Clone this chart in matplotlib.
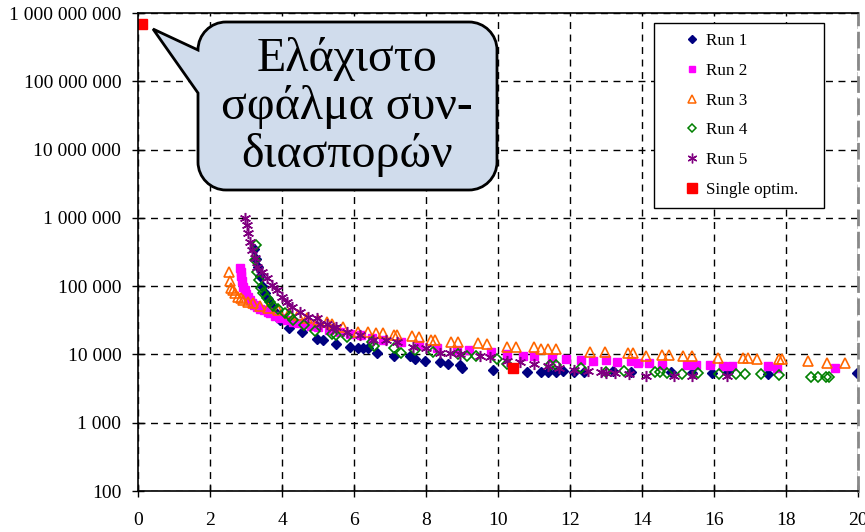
import matplotlib.pyplot as plt
import numpy as np
from matplotlib.path import Path
from matplotlib.patches import PathPatch
from matplotlib.lines import Line2D
from matplotlib.ticker import FixedLocator, FuncFormatter, NullLocator

plt.rcParams['font.family'] = ['Liberation Serif', 'DejaVu Serif']

# Covariance error per iteration for each run
run1_x = [3.22, 3.27, 3.32, 3.38, 3.45, 3.52, 3.6, 3.7, 3.8, 3.9, 3.95, 4.2, 4.55, 4.97,
          5.15, 5.5, 5.9, 6.1, 6.25, 6.4, 6.65, 7.1, 7.55, 7.7, 7.97, 8.4, 8.6, 8.95, 9.0,
          9.86, 10.8, 11.2, 11.4, 11.6, 11.8, 12.1, 12.4, 13.2, 13.7, 14.8, 15.4, 15.95,
          16.4, 17.5, 19.97]
run1_y = [350000, 250000, 190000, 140000, 100000, 80000, 65000, 52000, 42000, 35000, 32000,
          24500, 21000, 17000, 16000, 14000, 13000, 12500, 12500, 12300, 10500, 9500, 9400,
          8500, 8000, 7700, 7300, 6900, 6300, 5950, 5500, 5500, 5500, 5500, 5700, 5500, 5500,
          5700, 5500, 5500, 5400, 5300, 5500, 5200, 5300]

run2_x = [2.83, 2.85, 2.87, 2.9, 2.92, 2.96, 3.0, 3.05, 3.1, 3.17, 3.23, 3.3, 3.4, 3.5,
          3.6, 3.67, 3.8, 3.95, 4.14, 4.3, 4.45, 4.6, 4.8, 5.0, 5.3, 5.6, 5.9, 6.2, 6.5,
          6.8, 7.3, 7.8, 8.3, 8.85, 9.2, 9.8, 10.25, 10.7, 11.0, 11.5, 11.9, 12.3, 12.65,
          13.0, 13.3, 13.7, 13.9, 14.2, 14.55, 15.25, 15.5, 15.9, 16.25, 16.5, 17.5, 17.75,
          19.35]
run2_y = [185000, 160000, 140000, 120000, 98000, 88000, 78000, 69000, 63000, 57000, 53000,
          50000, 46000, 44000, 42000, 40000, 37000, 34000, 32000, 30000, 28500, 27500, 26000,
          25000, 23000, 21500, 20000, 19000, 17500, 16500, 15000, 13800, 12500, 11500, 11500,
          10700, 10000, 9500, 9400, 8900, 8700, 8400, 8000, 8200, 7800, 7900, 7600, 7600,
          7000, 7000, 7000, 6900, 6800, 6800, 6700, 6300, 6300]

run3_x = [2.53, 2.55, 2.58, 2.63, 2.7, 2.78, 2.85, 2.92, 3.05, 3.2, 3.39, 3.6, 3.9, 4.2,
          4.44, 4.7, 5.0, 5.25, 5.4, 5.7, 6.1, 6.4, 6.6, 6.8, 7.1, 7.2, 7.6, 7.8, 8.15, 8.25,
          8.7, 8.9, 9.45, 9.7, 10.25, 10.5, 11.0, 11.2, 11.4, 11.6, 12.55, 12.97, 13.6,
          13.75, 14.1, 14.55, 14.75, 15.15, 15.4, 16.1, 16.8, 16.95, 17.2, 17.8, 17.9, 18.6,
          19.15, 19.65]
run3_y = [160000, 120000, 95000, 88000, 80000, 70000, 66000, 63000, 58000, 56000, 52000,
          48000, 44000, 41000, 38000, 34000, 32000, 30000, 28000, 25000, 21000, 21000, 20500,
          20500, 19000, 19000, 18500, 18000, 16500, 16500, 15000, 15000, 14700, 14000, 13000,
          13000, 12800, 12200, 12200, 12200, 11000, 11000, 10400, 10400, 9500, 9800, 9800,
          9400, 9400, 9000, 8800, 8800, 8600, 8600, 8600, 8000, 7600, 7500]

run4_x = [3.28, 3.25, 3.3, 3.36, 3.43, 3.47, 3.58, 3.67, 3.75, 3.9, 4.08, 4.22, 4.3, 4.6,
          4.92, 5.39, 5.5, 5.8, 6.5, 6.55, 7.1, 7.3, 7.7, 8.2, 8.9, 9.15, 9.4, 9.97, 10.25,
          11.45, 11.6, 12.3, 13.0, 13.5, 14.35, 14.5, 14.7, 15.1, 15.55, 16.15, 16.6, 16.85,
          17.3, 17.8, 18.7, 18.9, 19.1, 19.2]
run4_y = [400000, 240000, 160000, 125000, 95000, 80000, 68000, 58000, 52000, 47000, 40000,
          36000, 32000, 27000, 22000, 20000, 19000, 18000, 15000, 13500, 12500, 10500, 11500,
          11000, 10000, 9500, 9500, 8500, 7300, 7000, 7000, 6300, 5500, 5700, 5500, 5500,
          5300, 5200, 5300, 5100, 5100, 5100, 5100, 5000, 4700, 4700, 4700, 4700]

run5_x = [2.97, 3.02, 3.06, 3.1, 3.16, 3.25, 3.3, 3.44, 3.58, 3.72, 3.86, 4.0, 4.14, 4.28,
          4.5, 4.72, 4.97, 5.05, 5.25, 5.42, 5.5, 5.8, 6.17, 6.53, 6.9, 7.2, 7.65, 8.0, 8.4,
          8.67, 8.95, 9.5, 9.78, 10.25, 10.6, 11.0, 11.4, 11.7, 12.1, 12.5, 12.85, 13.0,
          13.25, 13.65, 14.1, 14.9, 15.4, 16.35]
run5_y = [1000000, 780000, 600000, 450000, 340000, 260000, 190000, 160000, 130000, 105000,
          88000, 70000, 58000, 50000, 42000, 35000, 34000, 28000, 28000, 24500, 25000, 21000,
          19500, 16500, 16000, 15000, 13000, 12500, 10500, 10500, 10000, 9500, 9300, 8000,
          7800, 7300, 6800, 6300, 6000, 5800, 5500, 5400, 5300, 5100, 4900, 4900, 4900, 4800]

single_x = [0.1, 10.42]
single_y = [7.0e8, 6300]

y_ticks = [1e2, 1e3, 1e4, 1e5, 1e6, 1e7, 1e8, 1e9]
x_ticks = list(range(0, 21, 2))

W, H = 865, 532
fig = plt.figure(figsize=(W / 100, H / 100), dpi=100)
ax = fig.add_axes([138 / W, 1 - 491 / H, 720 / W, 478 / H])

ax.plot(run1_x, run1_y, ls='none', marker='D', ms=5, color='#000080', mec='#000080')
ax.plot(run2_x, run2_y, ls='none', marker='s', ms=5.5, color='#ff00ff', mec='#ff00ff')
ax.plot(run3_x, run3_y, ls='none', marker='^', ms=7, mfc='none', mec='#ff6600', mew=1.2)
ax.plot(run4_x, run4_y, ls='none', marker='D', ms=5, mfc='none', mec='#008000', mew=1.2)
ax.plot(run5_x, run5_y, ls='none', marker=(6, 2, 0), ms=8, mec='#800080', mew=1.1)
ax.plot(single_x, single_y, ls='none', marker='s', ms=7, color='#ff0000', mec='#ff0000')

ax.set_yscale('log')
ax.set_ylim(100, 1e9)
ax.set_xlim(0, 20)
ax.yaxis.set_major_locator(FixedLocator(y_ticks))
ax.yaxis.set_minor_locator(NullLocator())
ax.yaxis.set_major_formatter(FuncFormatter(lambda v, p: f'{int(round(v)):,}'.replace(',', ' ')))
ax.set_xticks(x_ticks)
ax.tick_params(axis='both', direction='inout', length=8, width=1, labelsize=14)
ax.tick_params(axis='y', pad=8)
ax.tick_params(axis='x', pad=11)

ax.grid(True, color='black', linestyle=(0, (5, 4)), linewidth=1)
ax.set_axisbelow(True)
for side in ['left', 'bottom', 'top']:
    ax.spines[side].set_linewidth(1.2)
ax.spines['right'].set_color('#888888')
ax.spines['right'].set_linestyle((0, (5, 3)))
ax.spines['right'].set_linewidth(2)

# Legend
handles = [
    Line2D([], [], ls='none', marker='D', ms=4, color='#000080'),
    Line2D([], [], ls='none', marker='s', ms=4.5, color='#ff00ff'),
    Line2D([], [], ls='none', marker='^', ms=5.5, mfc='none', mec='#ff6600', mew=1.1),
    Line2D([], [], ls='none', marker='D', ms=4, mfc='none', mec='#008000', mew=1.1),
    Line2D([], [], ls='none', marker=(6, 2, 0), ms=7, mec='#800080', mew=1),
    Line2D([], [], ls='none', marker='s', ms=7.5, color='#ff0000'),
]
labels = ['Run 1', 'Run 2', 'Run 3', 'Run 4', 'Run 5', 'Single optim.']
leg = fig.legend(handles, labels, loc='upper left', mode='expand',
                 bbox_to_anchor=(654 / W, 1 - 203 / H, 170 / W, 180 / H),
                 bbox_transform=fig.transFigure,
                 borderaxespad=0, fontsize=12.3, frameon=True, fancybox=False,
                 edgecolor='black', framealpha=1, borderpad=0.6, labelspacing=0.8,
                 handlelength=3.3, handletextpad=-0.88)
leg.get_frame().set_linewidth(1)

# Callout bubble with a pointer to the single optimisation start
L, R, T, B, r = 198, 497, 22, 190, 28
k = 0.5523 * r
tip = (153, 29)
pts = [
    (tip, Path.MOVETO),
    ((L, 93), Path.LINETO),
    ((L, B - r), Path.LINETO),
    ((L, B - r + k), Path.CURVE4), ((L + r - k, B), Path.CURVE4), ((L + r, B), Path.CURVE4),
    ((R - r, B), Path.LINETO),
    ((R - r + k, B), Path.CURVE4), ((R, B - r + k), Path.CURVE4), ((R, B - r), Path.CURVE4),
    ((R, T + r), Path.LINETO),
    ((R, T + r - k), Path.CURVE4), ((R - r + k, T), Path.CURVE4), ((R - r, T), Path.CURVE4),
    ((L + r, T), Path.LINETO),
    ((L + r - k, T), Path.CURVE4), ((L, T + r - k), Path.CURVE4), ((L, T + r), Path.CURVE4),
    (tip, Path.LINETO),
    (tip, Path.CLOSEPOLY),
]
verts = [(x / W, 1 - y / H) for (x, y), _ in pts]
codes = [c for _, c in pts]
bubble = PathPatch(Path(verts, codes), transform=fig.transFigure, facecolor='#d0dcec',
                   edgecolor='black', linewidth=2, zorder=5)
fig.patches.append(bubble)
fig.text(347 / W, 1 - 107 / H, 'Ελάχιστο\nσφάλμα συν-\nδιασπορών', ha='center', va='center',
         fontsize=34.5, linespacing=1.12, zorder=6)

fig.savefig('out.png', dpi=100)
plt.close(fig)
